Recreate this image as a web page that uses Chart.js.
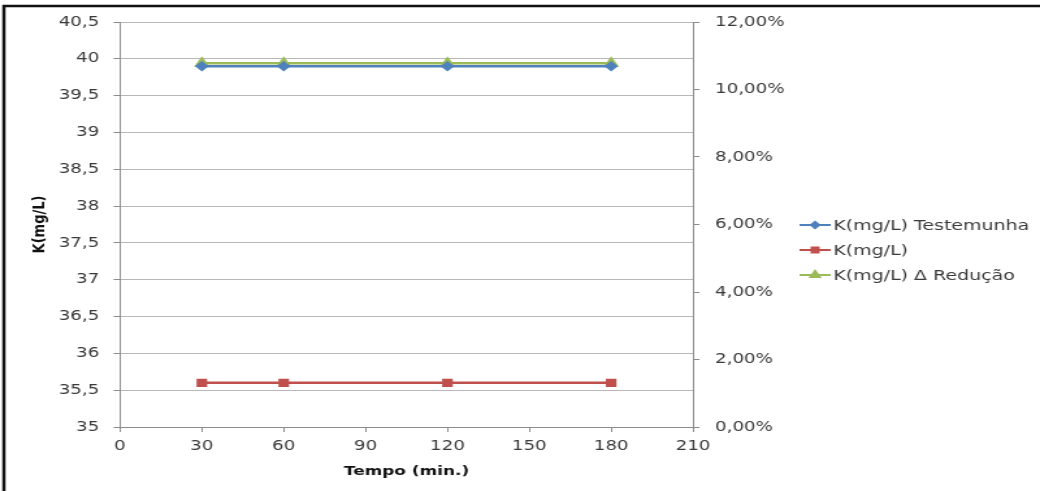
<!DOCTYPE html>
<html>
<head>
<meta charset="utf-8">
<script src="https://cdn.jsdelivr.net/npm/chart.js@4"></script>
<style>
  html, body { margin: 0; padding: 0; background: #fff; }
  #myChart { display: block; }
</style>
</head>
<body>
<!-- the reference picture is stretched sideways, so the canvas is drawn at 800 wide and shown at 1040 -->
<canvas id="myChart" width="800" height="491" style="width:1040px;height:491px"></canvas>
<script>
// data
var tempo = [30, 60, 120, 180];
var testemunha = [39.9, 39.9, 39.9, 39.9];
var tratado = [35.6, 35.6, 35.6, 35.6];
var reducao = [0.1078, 0.1078, 0.1078, 0.1078]; // right axis, percent
var labelsSeries = ['K(mg/L) Testemunha', 'K(mg/L)', 'K(mg/L) \u0394 Redu\u00e7\u00e3o'];

function pts(ys) {
  return tempo.map(function (t, i) { return { x: t, y: ys[i] }; });
}

var font = 'DejaVu Sans';
var textColor = '#3a3a3a';
var gridColor = '#b8b8b8';
var axisColor = '#8c8c8c';

// frame lines (top and left) like the cropped screenshot
var framePlugin = {
  id: 'frame',
  beforeDraw: function (chart) {
    var c = chart.ctx;
    c.save();
    c.fillStyle = '#fff';
    c.fillRect(0, 0, chart.width, chart.height);
    c.strokeStyle = '#111';
    c.lineWidth = 2.5;
    c.beginPath();
    c.moveTo(3, chart.height);
    c.lineTo(3, 6);
    c.lineTo(chart.width, 6);
    c.stroke();
    c.restore();
  }
};

// excel-like legend: line + marker + text
var legendPlugin = {
  id: 'xlLegend',
  afterDraw: function (chart) {
    var c = chart.ctx;
    var x0 = 615, x1 = 639, tx = 641, y0 = 225, dy = 25;
    chart.data.datasets.forEach(function (ds, i) {
      var y = y0 + i * dy;
      c.save();
      c.strokeStyle = ds.borderColor;
      c.fillStyle = ds.backgroundColor;
      c.lineWidth = 2;
      c.beginPath();
      c.moveTo(x0, y);
      c.lineTo(x1, y);
      c.stroke();
      Chart.helpers.drawPoint(c, {
        pointStyle: ds.pointStyle,
        radius: ds.pointRadius - 0.5,
        borderWidth: 1,
        rotation: 0
      }, (x0 + x1) / 2, y);
      c.fillStyle = textColor;
      c.font = '14.6px "' + font + '"';
      c.textBaseline = 'middle';
      c.textAlign = 'left';
      c.fillText(ds.label, tx, y + 1);
      c.restore();
    });
  }
};

var ctx = document.getElementById('myChart').getContext('2d');
var myChart = new Chart(ctx, {
  type: 'line',
  data: {
    datasets: [{
      label: labelsSeries[0],
      data: pts(testemunha),
      yAxisID: 'y',
      borderColor: '#4F81BD',
      backgroundColor: '#4F81BD',
      borderWidth: 2.5,
      pointStyle: 'rectRot',
      pointRadius: 3.5
    }, {
      label: labelsSeries[1],
      data: pts(tratado),
      yAxisID: 'y',
      borderColor: '#C0504D',
      backgroundColor: '#C0504D',
      borderWidth: 2.5,
      pointStyle: 'rect',
      pointRadius: 4
    }, {
      label: labelsSeries[2],
      data: pts(reducao),
      yAxisID: 'y2',
      borderColor: '#9BBB59',
      backgroundColor: '#9BBB59',
      borderWidth: 2.5,
      pointStyle: 'triangle',
      pointRadius: 4.5
    }]
  },
  options: {
    responsive: false,
    animation: false,
    layout: { padding: { left: 19, top: 22, right: 0, bottom: 8 } },
    plugins: {
      legend: { display: false },
      tooltip: { enabled: false }
    },
    scales: {
      x: {
        type: 'linear',
        min: 0,
        max: 210,
        ticks: {
          stepSize: 30,
          maxRotation: 0,
          padding: 6,
          color: textColor,
          font: { family: font, size: 14 }
        },
        grid: { drawOnChartArea: false, tickLength: 5, color: axisColor },
        border: { color: axisColor },
        title: {
          display: true,
          text: 'Tempo (min.)',
          color: '#111',
          font: { family: font, size: 13, weight: 'bold' }
        },
        afterFit: function (s) { s.height = 56; }
      },
      y: {
        position: 'left',
        min: 35,
        max: 40.5,
        ticks: {
          stepSize: 0.5,
          padding: 11,
          color: textColor,
          font: { family: font, size: 14 },
          callback: function (v) { return String(+v.toFixed(2)).replace('.', ','); }
        },
        grid: { color: gridColor, tickLength: 5, tickColor: axisColor },
        border: { color: axisColor },
        title: {
          display: true,
          text: 'K(mg/L)',
          color: '#111',
          font: { family: font, size: 13, weight: 'bold' }
        },
        afterFit: function (s) { s.width = 73.3; }
      },
      y2: {
        position: 'right',
        min: 0,
        max: 0.12,
        ticks: {
          stepSize: 0.02,
          padding: 12,
          color: textColor,
          font: { family: font, size: 14 },
          callback: function (v) { return (v * 100).toFixed(2).replace('.', ',') + '%'; }
        },
        grid: { drawOnChartArea: false, tickLength: 5, color: axisColor },
        border: { color: axisColor },
        afterFit: function (s) { s.width = 266.9; }
      }
    }
  },
  plugins: [framePlugin, legendPlugin]
});
</script>
</body>
</html>
